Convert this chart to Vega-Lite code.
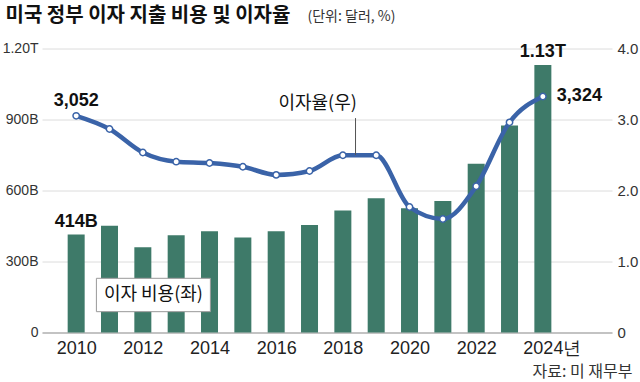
{
  "$schema": "https://vega.github.io/schema/vega-lite/v6.json",
  "width": 570,
  "height": 284,
  "autosize": {"type": "none"},
  "padding": {"left": 42, "top": 48.5, "right": 28, "bottom": 49.5},
  "background": "white",
  "config": {"view": {"stroke": null}, "font": "Liberation Sans"},
  "data": {"values": [
    {"year": 2010, "cost": 414, "rate": 3.052, "costLabel": "414B", "rateLabel": "3,052"},
    {"year": 2011, "cost": 451, "rate": 2.866},
    {"year": 2012, "cost": 360, "rate": 2.535},
    {"year": 2013, "cost": 411, "rate": 2.406},
    {"year": 2014, "cost": 428, "rate": 2.387},
    {"year": 2015, "cost": 401, "rate": 2.335},
    {"year": 2016, "cost": 428, "rate": 2.22},
    {"year": 2017, "cost": 454, "rate": 2.275},
    {"year": 2018, "cost": 516, "rate": 2.496},
    {"year": 2019, "cost": 567, "rate": 2.496},
    {"year": 2020, "cost": 525, "rate": 1.768},
    {"year": 2021, "cost": 556, "rate": 1.599},
    {"year": 2022, "cost": 713, "rate": 2.06},
    {"year": 2023, "cost": 875, "rate": 2.96},
    {"year": 2024, "cost": 1130, "rate": 3.324, "costLabel": "1.13T", "rateLabel": "3,324"}
  ]},
  "layer": [
    {
      "layer": [
        {
          "mark": {"type": "bar", "width": 17, "color": "#3e7a69"},
          "encoding": {
            "x": {
              "field": "year", "type": "quantitative",
              "scale": {"domain": [2009.125, 2025.924], "nice": false, "zero": false},
              "axis": {
                "values": [2010, 2012, 2014, 2016, 2018, 2020, 2022, 2024],
                "format": "d",
                "labelExpr": "datum.value == 2024 ? '2024년' : datum.label",
                "labelFontSize": 18,
                "labelColor": "#222",
                "labelPadding": 7,
                "labelOffset": {"condition": {"test": "datum.value == 2024", "value": 9}, "value": 0},
                "domainColor": "#999",
                "ticks": false,
                "grid": false,
                "title": "자료: 미 재무부",
                "titleFont": "Noto Sans CJK KR",
                "titleFontSize": 16,
                "titleFontWeight": "normal",
                "titleColor": "#333",
                "titleAlign": "right",
                "titleBaseline": "middle",
                "titleAnchor": null,
                "titleX": 590,
                "titleY": 39
              }
            },
            "y": {
              "field": "cost", "type": "quantitative",
              "scale": {"domain": [0, 1200], "nice": false},
              "axis": {
                "values": [0, 300, 600, 900, 1200],
                "labelExpr": "datum.value == 0 ? '0' : (datum.value == 1200 ? '1.20T' : datum.value + 'B')",
                "labelFontSize": 14,
                "labelColor": "#333",
                "labelPadding": 4,
                "grid": true,
                "gridColor": "#dcdcdc",
                "domain": false,
                "ticks": false,
                "title": "미국 정부 이자 지출 비용 및 이자율",
                "titleFont": "Noto Sans CJK KR",
                "titleFontSize": 20,
                "titleFontWeight": "bold",
                "titleColor": "#111",
                "titleAngle": 0,
                "titleAlign": "left",
                "titleBaseline": "middle",
                "titleX": -37,
                "titleY": -33
              }
            }
          }
        },
        {
          "transform": [{"filter": "isValid(datum.costLabel)"}],
          "mark": {"type": "text", "fontSize": 18, "fontWeight": "bold", "align": "center", "baseline": "alphabetic", "dy": -8, "color": "#111"},
          "encoding": {
            "x": {"field": "year", "type": "quantitative"},
            "y": {"field": "cost", "type": "quantitative"},
            "text": {"field": "costLabel"}
          }
        },
        {
          "data": {"values": [{}]},
          "mark": {"type": "rect", "fill": "white", "stroke": "#999", "strokeWidth": 1},
          "encoding": {
            "x": {"datum": 2010.607, "type": "quantitative"},
            "x2": {"datum": 2014.026},
            "y": {"datum": 229, "type": "quantitative"},
            "y2": {"datum": 88}
          }
        },
        {
          "data": {"values": [{}]},
          "mark": {"type": "text", "text": "이자 비용(좌)", "font": "Noto Sans CJK KR", "fontSize": 18, "align": "center", "baseline": "middle", "color": "#111"},
          "encoding": {
            "x": {"datum": 2012.317, "type": "quantitative"},
            "y": {"datum": 158, "type": "quantitative"}
          }
        }
      ]
    },
    {
      "layer": [
        {
          "mark": {"type": "line", "interpolate": "monotone", "color": "#3a63a8", "strokeWidth": 4.5},
          "encoding": {
            "x": {"field": "year", "type": "quantitative"},
            "y": {
              "field": "rate", "type": "quantitative",
              "scale": {"domain": [0, 4], "nice": false},
              "axis": {
                "orient": "right",
                "values": [0, 1, 2, 3, 4],
                "labelExpr": "datum.value == 0 ? '0' : format(datum.value, '.1f')",
                "labelFontSize": 15,
                "labelColor": "#333",
                "labelPadding": 5,
                "grid": false,
                "domain": false,
                "ticks": false,
                "title": "(단위: 달러, %)",
                "titleFont": "Noto Sans CJK KR",
                "titleFontSize": 14,
                "titleFontWeight": "normal",
                "titleColor": "#333",
                "titleAngle": 0,
                "titleAlign": "left",
                "titleBaseline": "middle",
                "titleX": -305,
                "titleY": -32
              }
            }
          }
        },
        {
          "mark": {"type": "point", "filled": true, "fill": "white", "stroke": "#3a63a8", "strokeWidth": 1.5, "size": 40, "opacity": 1},
          "encoding": {
            "x": {"field": "year", "type": "quantitative"},
            "y": {"field": "rate", "type": "quantitative"}
          }
        },
        {
          "transform": [{"filter": "datum.year == 2010"}],
          "mark": {"type": "text", "fontSize": 18, "fontWeight": "bold", "align": "center", "baseline": "alphabetic", "dy": -10, "color": "#111"},
          "encoding": {
            "x": {"field": "year", "type": "quantitative"},
            "y": {"field": "rate", "type": "quantitative"},
            "text": {"field": "rateLabel"}
          }
        },
        {
          "transform": [{"filter": "datum.year == 2024"}],
          "mark": {"type": "text", "fontSize": 18, "fontWeight": "bold", "align": "left", "baseline": "middle", "dx": 14, "color": "#111"},
          "encoding": {
            "x": {"field": "year", "type": "quantitative"},
            "y": {"field": "rate", "type": "quantitative"},
            "text": {"field": "rateLabel"}
          }
        },
        {
          "data": {"values": [{}]},
          "mark": {"type": "rule", "color": "#555", "strokeWidth": 1},
          "encoding": {
            "x": {"datum": 2018.38, "type": "quantitative"},
            "y": {"datum": 3.02, "type": "quantitative"},
            "y2": {"datum": 2.5}
          }
        },
        {
          "data": {"values": [{}]},
          "mark": {"type": "text", "text": "이자율(우)", "font": "Noto Sans CJK KR", "fontSize": 18, "align": "right", "baseline": "middle", "color": "#111"},
          "encoding": {
            "x": {"datum": 2018.42, "type": "quantitative"},
            "y": {"datum": 3.225, "type": "quantitative"}
          }
        }
      ]
    }
  ],
  "resolve": {"scale": {"y": "independent"}}
}
